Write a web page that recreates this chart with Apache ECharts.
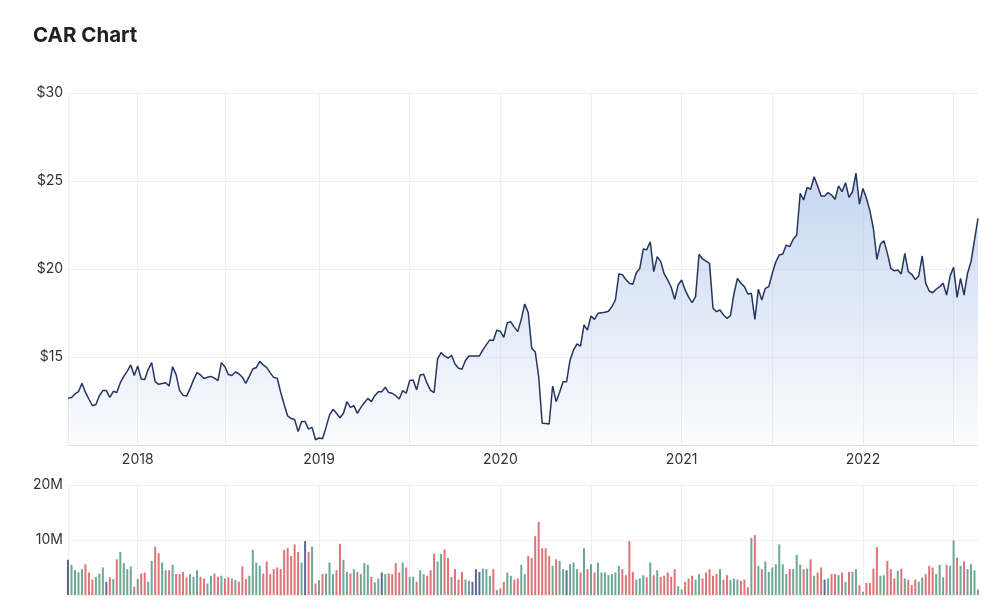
<!DOCTYPE html>
<html><head><meta charset="utf-8">
<script src="https://cdn.jsdelivr.net/npm/echarts@6/dist/echarts.min.js"></script>
<style>html,body{margin:0;padding:0;background:#fff}#c{width:1000px;height:613px}</style>
</head><body><div id="c"></div>
<script>
// ---- data ----
const titleText = 'CAR Chart';
const firstWeek = [2017, 7, 14]; // weekly categories start (UTC y, m0, d)
const weekCount = 262;
const priceAxis = { min: 10, max: 30, step: 5 };
const volumeAxis = { min: 0, max: 20, step: 10 }; // millions
const prices = [
12.65,12.7,12.9,13.03,13.5,13.0,12.6,12.23,12.3,12.8,
13.09,13.09,12.7,13.05,12.98,13.54,13.9,14.2,14.55,13.95,
14.49,13.75,13.72,14.3,14.68,13.6,13.45,13.5,13.54,13.35,
14.45,14.0,13.1,12.82,12.78,13.2,13.7,14.11,13.98,13.78,
13.85,13.9,13.8,13.66,14.68,14.45,14.0,13.95,14.15,14.05,
13.85,13.5,13.9,14.32,14.4,14.75,14.55,14.4,14.1,13.84,
13.8,13.0,12.3,11.65,11.5,11.45,10.77,11.33,11.33,10.9,
11.0,10.3,10.4,10.35,11.0,11.7,12.03,11.8,11.55,11.8,
12.46,12.14,12.23,11.8,12.14,12.4,12.65,12.46,12.8,13.03,
13.03,13.28,12.98,12.94,12.8,12.61,13.09,12.94,13.66,13.69,
13.13,13.98,14.02,13.5,13.1,12.98,14.9,15.25,15.06,14.93,
15.1,14.6,14.36,14.32,14.8,15.06,15.06,15.06,15.06,15.4,
15.7,15.97,15.94,16.53,16.45,16.12,16.95,17.0,16.7,16.44,
17.14,18.01,17.52,15.49,15.3,13.88,11.23,11.22,11.19,13.35,
12.46,13.0,13.6,13.6,14.83,15.4,15.74,15.62,16.82,16.53,
17.33,17.14,17.48,17.52,17.54,17.6,17.86,18.24,19.72,19.68,
19.4,19.19,19.13,19.79,20.03,21.14,21.1,21.55,19.85,20.7,
20.42,19.72,19.38,18.96,18.28,19.09,19.38,18.81,18.4,18.09,
18.43,20.84,20.57,20.45,20.32,17.77,17.58,17.67,17.39,17.2,
17.35,18.58,19.47,19.19,19.0,18.58,18.62,17.14,18.85,18.24,
18.9,19.0,19.76,20.4,20.8,20.85,21.36,21.27,21.69,21.93,
24.3,23.92,24.64,24.53,25.24,24.72,24.15,24.15,24.34,24.2,
23.96,24.72,24.39,24.9,24.07,24.39,25.44,23.69,24.58,24.02,
23.3,22.3,20.55,21.4,21.61,20.9,20.03,19.9,19.94,19.72,
20.89,19.85,19.7,19.4,19.6,20.74,19.2,18.75,18.65,18.85,
19.0,19.19,18.52,19.6,20.1,18.39,19.47,18.52,19.76,20.42,
21.65,22.88
];
const volumes = [
6.4,5.5,4.5,4.1,4.7,5.6,4.1,2.8,3.3,3.9,
5.0,2.4,3.2,2.9,6.5,7.8,5.8,4.7,5.2,1.5,
2.9,3.9,4.1,2.4,6.2,8.8,7.6,5.9,4.5,4.5,
5.5,3.8,3.8,4.2,3.2,3.8,3.3,4.5,3.3,3.0,
2.1,3.5,3.9,3.3,3.5,3.0,3.2,3.0,2.7,2.4,
5.2,2.9,3.5,8.2,5.9,5.3,3.9,6.1,3.8,4.7,
5.0,4.7,8.2,8.5,7.1,9.2,7.8,5.9,9.8,7.8,
8.8,2.1,2.7,3.8,3.9,5.9,3.8,4.5,9.3,6.4,
4.2,3.9,4.7,4.2,3.8,5.8,5.5,3.3,2.3,3.0,
4.1,3.8,3.9,3.8,5.8,
4.1,5.9,5.0,3.3,3.3,2.4,4.5,3.8,3.5,4.5,
7.5,6.1,7.5,8.3,6.7,3.3,4.7,2.8,4.2,2.8,
2.6,2.4,4.7,4.2,4.8,4.7,3.5,4.7,0.9,1.2,
2.4,4.1,3.5,2.8,3.0,5.5,3.8,7.1,6.7,10.7,
13.3,8.5,8.5,7.1,5.3,6.5,6.2,4.7,4.5,5.6,
5.9,4.7,4.1,8.5,4.7,5.6,4.1,5.9,4.1,4.1,
3.6,3.8,4.1,5.3,4.7,3.6,9.8,4.2,2.8,3.0,
3.6,3.2,5.9,3.6,4.5,3.3,3.5,4.1,3.3,4.7,
1.6,1.0,2.4,3.0,3.5,2.8,
3.8,3.0,4.1,4.7,3.5,3.8,4.7,2.8,3.6,2.7,
3.0,2.8,2.6,2.8,1.4,10.4,10.9,5.3,4.7,6.1,
4.2,5.0,5.6,9.2,5.6,3.8,4.7,4.7,7.3,5.5,
4.7,4.8,6.5,3.5,4.1,5.0,2.8,3.0,3.8,3.8,
3.6,4.1,2.4,4.2,4.2,4.7,1.8,0.6,2.2,2.2,
4.8,8.7,3.5,3.6,6.2,4.7,3.0,4.4,4.8,3.0,
2.8,1.8,2.8,2.4,3.2,3.8,5.3,5.0,3.8,5.5,
3.2,5.5,5.3,9.9,6.8,5.3,6.1,4.7,5.6,4.5,
1.0
];

// ---- categories (weekly dates) ----
const DAY = 864e5;
const t0 = Date.UTC(firstWeek[0], firstWeek[1], firstWeek[2]);
const dates = [];
for (let i = 0; i < weekCount; i++) {
  const d = new Date(t0 + i * 7 * DAY);
  dates.push(d.toISOString().slice(0, 10));
}
const ts = dates.map(s => Date.parse(s + 'T00:00:00Z'));
function weekHas(i, month) {
  const a = ts[i], b = a + 7 * DAY;
  const y0 = new Date(a).getUTCFullYear();
  for (let y = y0; y <= y0 + 1; y++) {
    const t = Date.UTC(y, month, 1);
    if (t >= a && t < b) return y;
  }
  return 0;
}
const yearIdx = new Set(), halfIdx = new Set();
const yearLabel = {};
for (let i = 0; i < weekCount; i++) {
  const y = weekHas(i, 0);
  if (y) { yearIdx.add(i); halfIdx.add(i); yearLabel[i] = String(y); }
  if (weekHas(i, 6)) halfIdx.add(i);
}
halfIdx.add(0);

const UP = '#5c9f8a', DOWN = '#dc6468', FLAT = '#4a5a86';
const barData = volumes.map((v, i) => ({
  value: v,
  itemStyle: { color: i === 0 || prices[i] === prices[i - 1] ? FLAT : (prices[i] > prices[i - 1] ? UP : DOWN) }
}));

const FONT = 'Inter, "Noto Sans", sans-serif';
const splitCol = '#efefef';

const chart = echarts.init(document.getElementById('c'), null, { renderer: 'canvas' });
chart.setOption({
  animation: false,
  backgroundColor: '#fff',
  title: {
    text: titleText, left: 33, top: 25, padding: 0,
    textStyle: { fontFamily: FONT, fontSize: 20.5, fontWeight: 700, color: '#222' }
  },
  grid: [
    { left: 68, right: 22, top: 93, height: 352 },
    { left: 68, right: 22, top: 485, height: 110 }
  ],
  xAxis: [
    {
      type: 'category', gridIndex: 0, data: dates, boundaryGap: false,
      axisLine: { show: true, lineStyle: { color: '#e2e2e2' } },
      axisTick: { show: false },
      axisLabel: {
        interval: (i) => yearIdx.has(i),
        formatter: (v, i) => yearLabel[i] || '',
        fontFamily: FONT, fontSize: 14, color: '#333', margin: 8
      },
      splitLine: { show: true, interval: (i) => halfIdx.has(i), lineStyle: { color: splitCol } }
    },
    {
      type: 'category', gridIndex: 1, data: dates, boundaryGap: false,
      axisLine: { show: false },
      axisTick: { show: false },
      axisLabel: { show: false },
      splitLine: { show: true, interval: (i) => halfIdx.has(i), lineStyle: { color: splitCol } }
    }
  ],
  yAxis: [
    {
      type: 'value', gridIndex: 0, min: priceAxis.min, max: priceAxis.max, interval: priceAxis.step,
      axisLine: { show: false }, axisTick: { show: false },
      axisLabel: {
        formatter: v => v === priceAxis.min ? '' : '$' + v,
        fontFamily: FONT, fontSize: 14, color: '#333', margin: 5
      },
      splitLine: { lineStyle: { color: splitCol } }
    },
    {
      type: 'value', gridIndex: 1, min: volumeAxis.min, max: volumeAxis.max, interval: volumeAxis.step,
      axisLine: { show: false }, axisTick: { show: false },
      axisLabel: {
        formatter: v => v === 0 ? '' : v + 'M',
        fontFamily: FONT, fontSize: 14, color: '#333', margin: 5
      },
      splitLine: { lineStyle: { color: splitCol } }
    }
  ],
  series: [
    {
      type: 'line', xAxisIndex: 0, yAxisIndex: 0, data: prices,
      symbol: 'none', smooth: false,
      lineStyle: { color: '#26345f', width: 1.5 },
      areaStyle: {
        color: new echarts.graphic.LinearGradient(0, 0, 0, 1, [
          { offset: 0, color: 'rgba(160,188,230,0.85)' },
          { offset: 1, color: 'rgba(160,188,230,0.06)' }
        ])
      }
    },
    {
      type: 'bar', xAxisIndex: 1, yAxisIndex: 1, data: barData,
      barWidth: 2, itemStyle: { opacity: 0.9 }
    }
  ]
});
</script>
</body></html>
